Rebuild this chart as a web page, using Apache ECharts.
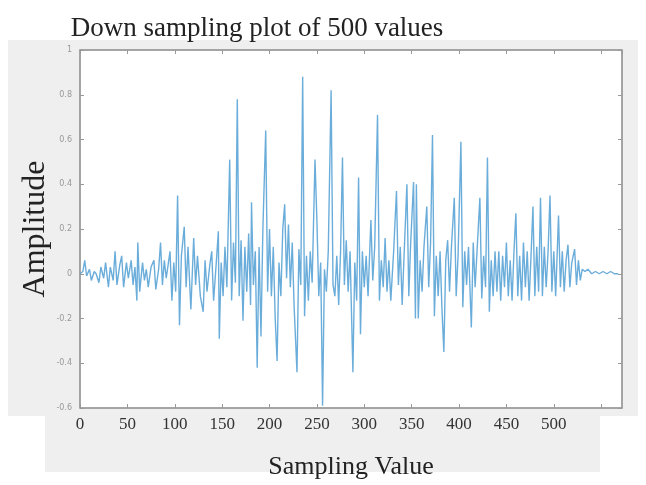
<!DOCTYPE html>
<html>
<head>
<meta charset="utf-8">
<script src="https://cdn.jsdelivr.net/npm/echarts@6/dist/echarts.min.js"></script>
<style>
  html, body { margin: 0; padding: 0; background: #fff; }
  #main { width: 646px; height: 485px; }
</style>
</head>
<body>
<div id="main"></div>
<script>
// tick labels
var xTickLabels = ['0', '50', '100', '150', '200', '250', '300', '350', '400', '450', '500'];
var yTickLabels = ['-0.6', '-0.4', '-0.2', '0', '0.2', '0.4', '0.6', '0.8', '1'];

// [sample, amplitude] vertices, segment by segment
var quietStart = [
  [0, 0], [3, 0.01], [5, 0.06], [7, -0.01], [10, 0.02], [12, -0.03], [15, 0.01], [17, 0.0],
  [20, -0.04], [22, 0.03], [25, -0.02], [27, 0.05], [30, -0.06], [32, 0.03], [35, -0.03],
  [37, 0.1], [39, -0.05], [42, 0.04], [44, 0.08], [46, -0.06], [49, 0.05], [51, -0.02],
  [54, 0.06], [56, -0.05], [58, 0.03], [60, -0.12], [61, 0.14], [63, -0.08], [66, 0.05],
  [68, -0.03], [70, 0.02], [72, -0.06], [75, 0.03], [78, 0.06], [80, -0.07], [83, 0.02],
  [85, 0.14], [87, -0.05], [89, 0.06], [91, -0.02], [93, 0.04], [95, 0.1], [97, -0.12], [99, 0.05]
];
var buildUp = [
  [101, -0.08], [103, 0.35], [105, -0.23], [107, 0.08], [110, 0.21], [112, -0.06], [114, 0.12],
  [117, -0.16], [120, 0.16], [122, -0.05], [124, 0.08], [127, -0.1], [130, -0.17], [132, 0.06],
  [134, -0.08], [137, 0.04], [139, 0.1], [141, -0.12], [144, 0.06], [146, 0.19], [147, -0.29],
  [149, 0.05], [151, -0.1], [153, 0.12], [155, -0.06], [158, 0.51], [160, -0.12], [162, 0.14],
  [164, -0.04], [166, 0.78], [168, -0.1], [170, 0.15], [172, -0.21], [174, 0.12], [176, -0.08],
  [178, 0.18], [180, -0.14]
];
var mainBurst = [
  [181, 0.32], [183, -0.05], [185, 0.1], [187, -0.42], [189, 0.12], [191, -0.28], [193, 0.2],
  [196, 0.64], [198, -0.08], [200, 0.2], [202, -0.1], [204, 0.12], [206, -0.2], [208, -0.39],
  [210, 0.05], [212, -0.1], [214, 0.2], [216, 0.31], [218, -0.02], [220, 0.22], [222, -0.06],
  [224, 0.14], [226, -0.15], [229, -0.44], [231, 0.11], [233, -0.05], [235, 0.88], [237, -0.19],
  [239, 0.08], [241, -0.12], [243, 0.1], [245, -0.04], [248, 0.51], [250, 0.24], [252, -0.1],
  [254, 0.05], [256, -0.59], [258, 0.02], [260, -0.08]
];
var lateBurst = [
  [262, 0.1], [265, 0.82], [267, -0.05], [269, -0.1], [271, 0.08], [273, -0.14], [275, 0.1],
  [277, 0.52], [279, -0.05], [281, 0.15], [283, -0.08], [285, 0.1], [288, -0.44], [290, 0.05],
  [292, -0.12], [294, 0.43], [296, -0.27], [298, 0.1], [300, -0.06], [302, 0.08], [304, -0.1],
  [307, 0.24], [309, -0.03], [311, 0.12], [314, 0.71], [316, -0.12], [318, 0.06], [320, -0.06],
  [322, 0.16], [324, -0.08], [326, 0.06], [328, -0.12], [331, 0.1], [334, 0.37], [336, -0.05],
  [338, 0.12], [340, -0.14], [342, 0.08], [345, 0.4], [347, -0.1], [349, 0.14], [352, 0.41],
  [354, -0.2]
];
var decay = [
  [355, 0.4], [357, -0.2], [359, 0.06], [361, -0.08], [363, 0.12], [366, 0.3], [368, -0.06],
  [370, 0.14], [372, 0.62], [374, -0.19], [376, 0.08], [378, -0.1], [380, 0.1], [382, -0.16],
  [384, -0.35], [386, 0.06], [388, 0.15], [390, -0.08], [392, 0.12], [395, 0.34], [397, -0.1],
  [399, 0.08], [402, 0.59], [404, -0.15], [406, 0.1], [408, -0.05], [410, 0.12], [413, -0.24],
  [415, 0.14], [417, -0.06], [419, 0.1], [422, 0.34], [424, -0.11], [426, 0.08], [428, -0.06],
  [430, 0.52], [432, -0.17], [434, 0.06], [436, -0.1], [438, 0.1], [440, -0.08]
];
var tail = [
  [442, 0.1], [444, -0.12], [446, 0.08], [448, -0.06], [450, 0.14], [452, -0.1], [454, 0.06],
  [456, -0.12], [458, 0.1], [460, 0.27], [462, -0.1], [464, 0.08], [466, -0.12], [468, 0.14],
  [470, -0.06], [472, 0.1], [474, -0.12], [476, 0.08], [478, 0.3], [480, -0.1], [482, 0.12],
  [484, -0.08], [486, 0.34], [488, -0.1], [490, 0.12], [492, -0.06], [494, 0.1], [496, 0.35],
  [498, -0.08], [500, 0.1], [502, -0.1], [505, 0.26], [507, -0.06], [509, 0.1], [511, -0.08],
  [513, 0.06], [515, 0.13], [517, -0.06], [519, 0.05], [522, 0.11], [524, -0.05], [526, 0.06],
  [528, -0.03], [530, 0.02]
];
var flatEnd = [
  [533, 0.01], [536, 0.02], [540, 0.0], [544, 0.01], [548, 0.0], [552, 0.01], [556, 0.0],
  [560, 0.01], [564, 0.0], [568, 0.0]
];

var samples = [].concat(quietStart, buildUp, mainBurst, lateBurst, decay, tail, flatEnd);

var chart = echarts.init(document.getElementById('main'), null, { renderer: 'canvas' });

var serif = '"Liberation Serif", "DejaVu Serif", serif';
var axisGray = '#999';

chart.setOption({
  animation: false,
  backgroundColor: '#fff',
  title: {
    text: 'Down sampling plot of 500 values',
    left: 252,
    top: 10,
    textAlign: 'center',
    textStyle: { fontFamily: serif, fontSize: 27, fontWeight: 'normal', color: '#222' }
  },
  graphic: [
    // scanned grey panels around the plot box
    { type: 'rect', z: -10, shape: { x: 8, y: 40, width: 630, height: 376 }, style: { fill: '#efefef' } },
    { type: 'rect', z: -10, shape: { x: 45, y: 412, width: 555, height: 60 }, style: { fill: '#efefef' } }
  ],
  grid: {
    left: 80, right: 24, top: 50, bottom: 74,
    show: true, backgroundColor: '#fff', borderColor: axisGray, borderWidth: 1
  },
  xAxis: [{
    type: 'value',
    min: 0, max: 572, interval: 50,
    name: 'Sampling Value',
    nameLocation: 'middle',
    nameGap: 46,
    nameMoveOverlap: false,
    nameTextStyle: { fontFamily: serif, fontSize: 26, color: '#222' },
    axisLine: { onZero: false, lineStyle: { color: axisGray, width: 1.5 } },
    axisTick: { inside: true, length: 4, lineStyle: { color: axisGray } },
    splitLine: { show: false },
    axisLabel: {
      showMaxLabel: false,
      margin: 8,
      fontFamily: serif, fontSize: 17, color: '#333',
      formatter: function (v) {
        var i = Math.round(v / 50);
        return i < xTickLabels.length ? xTickLabels[i] : '';
      }
    }
  }, {
    type: 'value', position: 'top',
    min: 0, max: 572, interval: 50,
    axisLine: { onZero: false, lineStyle: { color: axisGray, width: 1.5 } },
    axisTick: { inside: true, length: 4, lineStyle: { color: axisGray } },
    axisLabel: { show: false },
    splitLine: { show: false }
  }],
  yAxis: [{
    type: 'value',
    min: -0.6, max: 1.0, interval: 0.2,
    name: 'Amplitude',
    nameLocation: 'middle',
    nameGap: 28,
    nameMoveOverlap: false,
    nameTextStyle: { fontFamily: serif, fontSize: 32, color: '#222' },
    axisLine: { show: true, onZero: false, lineStyle: { color: axisGray, width: 1.5 } },
    axisTick: { show: true, inside: true, length: 4, lineStyle: { color: axisGray } },
    splitLine: { show: false },
    axisLabel: {
      margin: 8,
      fontFamily: '"DejaVu Sans", sans-serif', fontSize: 8, color: '#999',
      formatter: function (v) {
        var i = Math.round((v + 0.6) / 0.2);
        return yTickLabels[i] || '';
      }
    }
  }, {
    type: 'value', position: 'right',
    min: -0.6, max: 1.0, interval: 0.2,
    axisLine: { show: true, onZero: false, lineStyle: { color: axisGray, width: 1.5 } },
    axisTick: { show: true, inside: true, length: 4, lineStyle: { color: axisGray } },
    axisLabel: { show: false },
    splitLine: { show: false }
  }],
  series: [{
    type: 'line',
    data: samples,
    showSymbol: false,
    symbol: 'none',
    lineStyle: { color: '#5ba4d6', width: 1.4, opacity: 0.9 }
  }]
});
</script>
</body>
</html>
